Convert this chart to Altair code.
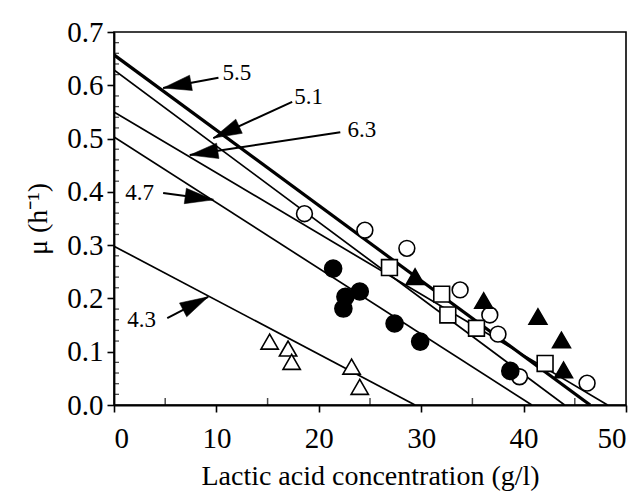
import math
import altair as alt
import pandas as pd

# ---------------- data ----------------
open_circle_x = [18.6, 24.5, 28.6, 33.8, 36.7, 37.5, 39.6, 46.2]
open_circle_y = [0.359, 0.328, 0.294, 0.216, 0.169, 0.133, 0.053, 0.041]

filled_circle_x = [21.4, 22.4, 22.6, 24.0, 27.4, 29.9, 38.7]
filled_circle_y = [0.256, 0.181, 0.203, 0.213, 0.153, 0.119, 0.064]

open_square_x = [26.9, 32.0, 32.6, 35.4, 42.1]
open_square_y = [0.258, 0.208, 0.169, 0.144, 0.078]

filled_triangle_x = [29.4, 36.1, 41.4, 43.7, 43.9]
filled_triangle_y = [0.241, 0.196, 0.166, 0.122, 0.066]

open_triangle_x = [15.2, 17.0, 17.35, 23.2, 24.0]
open_triangle_y = [0.119, 0.106, 0.081, 0.072, 0.034]

# fitted lines: label (pH), intercept at 0 g/l, concentration where mu = 0
line_labels = ["5.5", "5.1", "6.3", "4.7", "4.3"]
line_intercepts = [0.657, 0.629, 0.550, 0.503, 0.298]
line_x_ends = [46.5, 44.0, 48.2, 40.8, 29.4]

# annotation labels with arrows (data coordinates)
ann_text = ["5.5", "5.1", "6.3", "4.7", "4.3"]
ann_text_x = [12.0, 19.0, 24.2, 2.5, 2.7]
ann_text_y = [0.623, 0.578, 0.516, 0.398, 0.160]
ann_tail_x = [10.2, 17.4, 22.1, 4.8, 5.2]
ann_tail_y = [0.614, 0.569, 0.512, 0.398, 0.163]
ann_tip_x = [4.8, 9.7, 7.4, 9.7, 9.2]
ann_tip_y = [0.595, 0.501, 0.469, 0.385, 0.203]

x_minor = [5, 15, 25, 35, 45]
y_minor = [0.02, 0.04, 0.06, 0.08, 0.12, 0.14, 0.16, 0.18, 0.22, 0.24, 0.26, 0.28,
           0.32, 0.34, 0.36, 0.38, 0.42, 0.44, 0.46, 0.48, 0.52, 0.54, 0.56, 0.58,
           0.62, 0.64, 0.66, 0.68]

# ---------------- chart ----------------
W, H = 512, 373
FONT = "Liberation Serif"

xs = alt.Scale(domain=[0, 50], nice=False)
ys = alt.Scale(domain=[0, 0.7], nice=False)

x_axis = alt.Axis(values=[0, 10, 20, 30, 40, 50], format="d", grid=False,
                  title="Lactic acid concentration (g/l)")
y_axis = alt.Axis(values=[0, 0.1, 0.2, 0.3, 0.4, 0.5, 0.6, 0.7], format=".1f", grid=False,
                  title="μ (h⁻¹)")

rows = []
for lab, a, xe in zip(line_labels, line_intercepts, line_x_ends):
    rows.append({"label": lab, "x": 0.0, "y": a})
    rows.append({"label": lab, "x": xe, "y": 0.0})
lines_df = pd.DataFrame(rows)

lines = alt.Chart(lines_df).mark_line(color="black", clip=True).encode(
    x=alt.X("x:Q", scale=xs, axis=x_axis),
    y=alt.Y("y:Q", scale=ys, axis=y_axis),
    detail="label:N",
    strokeWidth=alt.condition(alt.datum.label == "5.5", alt.value(3.2), alt.value(1.7)),
)


def pts(xv, yv, shape, filled, size):
    df = pd.DataFrame({"x": xv, "y": yv})
    return alt.Chart(df).mark_point(
        shape=shape, filled=True, size=size,
        fill="black" if filled else "white", stroke="black",
        strokeWidth=1.6, opacity=1,
    ).encode(x=alt.X("x:Q", scale=xs), y=alt.Y("y:Q", scale=ys))


points = [
    pts(open_circle_x, open_circle_y, "circle", False, 250),
    pts(filled_circle_x, filled_circle_y, "circle", True, 290),
    pts(open_square_x, open_square_y, "square", False, 250),
    pts(filled_triangle_x, filled_triangle_y, "triangle-up", True, 320),
    pts(open_triangle_x, open_triangle_y, "triangle-up", False, 300),
]

sx, sy = W / 50.0, H / 0.7
angles = []
for tx, ty, px_, py_ in zip(ann_tail_x, ann_tail_y, ann_tip_x, ann_tip_y):
    dx = (px_ - tx) * sx
    dy = -(py_ - ty) * sy
    angles.append(math.degrees(math.atan2(dx, -dy)) % 360)

ann_df = pd.DataFrame({
    "text": ann_text, "tx": ann_text_x, "ty": ann_text_y,
    "x1": ann_tail_x, "y1": ann_tail_y, "x2": ann_tip_x, "y2": ann_tip_y,
    "angle": angles,
})

arrows = alt.Chart(ann_df).mark_rule(color="black", strokeWidth=2.0).encode(
    x=alt.X("x1:Q", scale=xs), y=alt.Y("y1:Q", scale=ys), x2="x2:Q", y2="y2:Q")

heads = alt.Chart(ann_df).mark_point(
    shape="M0,0L0.55,2L-0.55,2Z", filled=True, fill="black", stroke="black",
    strokeWidth=0.5, size=800, opacity=1,
).encode(x=alt.X("x2:Q", scale=xs), y=alt.Y("y2:Q", scale=ys),
         angle=alt.Angle("angle:Q", scale=None))

labels = alt.Chart(ann_df).mark_text(
    font=FONT, fontSize=23, color="black", align="center", baseline="middle",
).encode(x=alt.X("tx:Q", scale=xs), y=alt.Y("ty:Q", scale=ys), text="text:N")

xmin_df = pd.DataFrame({"x": x_minor, "y": [0.0] * len(x_minor)})
xminor = alt.Chart(xmin_df).mark_tick(
    orient="vertical", color="black", size=7, thickness=1.5, yOffset=-3.5).encode(
    x=alt.X("x:Q", scale=xs), y=alt.Y("y:Q", scale=ys))

ymin_df = pd.DataFrame({"x": [0.0] * len(y_minor), "y": y_minor})
yminor = alt.Chart(ymin_df).mark_tick(
    orient="horizontal", color="black", size=5, thickness=1.3, xOffset=2.5).encode(
    x=alt.X("x:Q", scale=xs), y=alt.Y("y:Q", scale=ys))

chart = alt.layer(lines, *points, arrows, heads, labels, xminor, yminor).properties(
    width=W, height=H,
    autosize=alt.AutoSizeParams(type="none"),
    padding={"left": 106, "top": 24, "right": 10, "bottom": 89},
    background="white",
).configure_view(
    stroke="black", strokeWidth=1.6,
).configure_axis(
    domainColor="black", domainWidth=1.8,
    tickColor="black", tickWidth=1.6, tickSize=7,
    labelFont=FONT, labelFontSize=29, labelColor="black",
    titleFont=FONT, titleFontSize=28, titleColor="black", titleFontWeight="normal",
).configure_axisX(
    labelPadding=12, titlePadding=9,
).configure_axisY(
    labelPadding=4, titlePadding=14,
)

chart.save("out.html", embed_options={"renderer": "svg", "actions": False})
